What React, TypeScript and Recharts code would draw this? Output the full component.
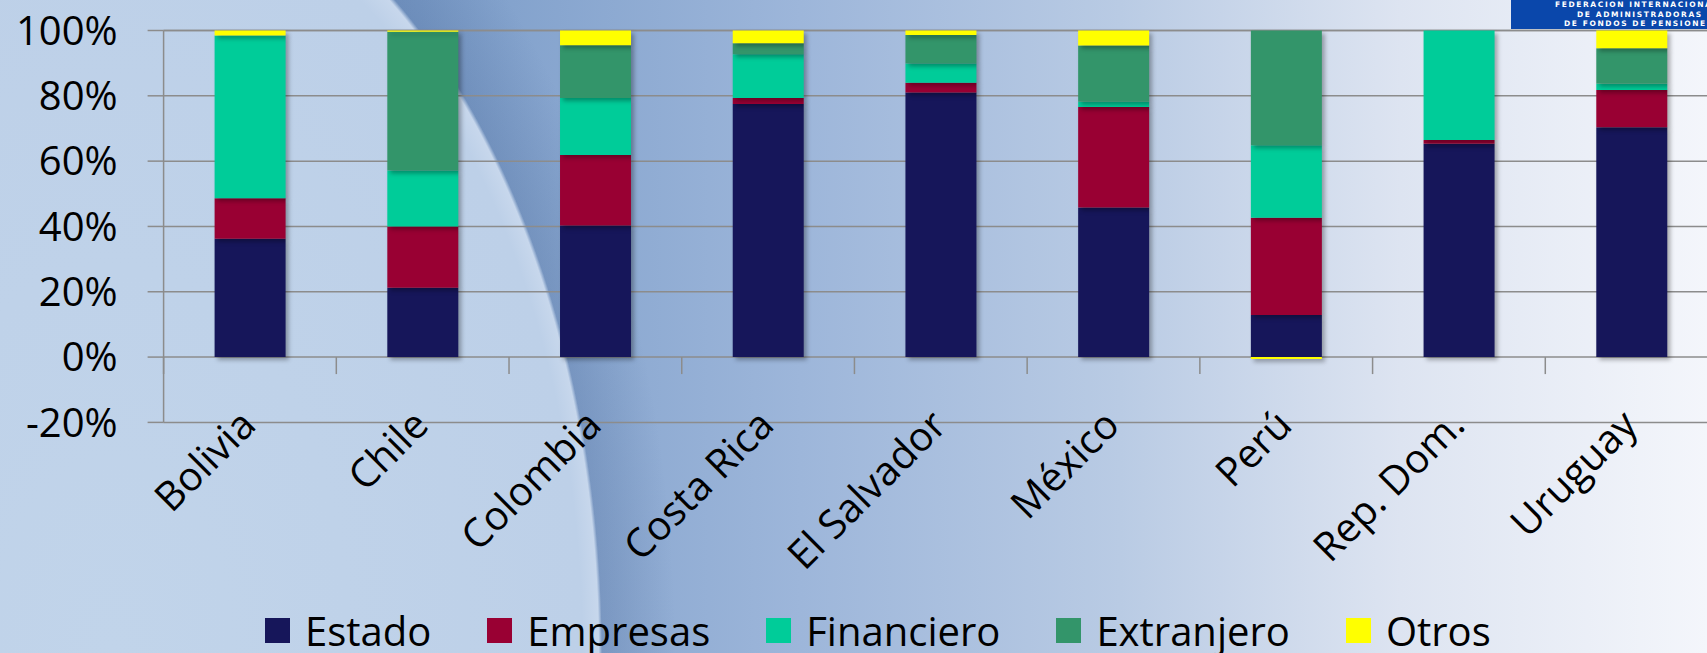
import { BarChart, Bar, XAxis, YAxis, CartesianGrid, Legend } from "recharts";

// composition by issuer, % of portfolio
const countries = ["Bolivia", "Chile", "Colombia", "Costa Rica", "El Salvador", "México", "Perú", "Rep. Dom.", "Uruguay"];
const estado = [36.2, 21.2, 40.3, 77.5, 81.0, 45.8, 12.9, 65.3, 70.4];
const empresas = [12.4, 18.8, 21.6, 1.8, 3.0, 30.8, 29.8, 1.2, 11.4];
const financiero = [49.9, 17.1, 17.4, 13.4, 5.9, 1.6, 22.2, 33.5, 1.9];
const extranjero = [0, 42.5, 16.2, 3.4, 8.7, 17.2, 35.1, 0, 10.9];
const otros = [1.5, 0.4, 4.5, 3.9, 1.4, 4.6, -0.6, 0, 5.4];
const yTicks = [-20, 0, 20, 40, 60, 80, 100];

const series = [
  { key: "Estado", values: estado, color: "#16165a" },
  { key: "Empresas", values: empresas, color: "#990033" },
  { key: "Financiero", values: financiero, color: "#00cc99" },
  { key: "Extranjero", values: extranjero, color: "#33956a" },
  { key: "Otros", values: otros, color: "#ffff00" },
];

const data = countries.map((c, i) => {
  const row: Record<string, string | number> = { country: c };
  series.forEach((s) => (row[s.key] = s.values[i]));
  return row;
});

const FONT = "'Open Sans', sans-serif";
const GRID = "#8c8c8c";
const CHART_W = 1740;
const CHART_H = 653;
const MARGIN = { top: 30.5, right: 22, bottom: 0, left: 0 };
const Y_AXIS_W = 163.6;
const LEGEND_H = 46;
const X_AXIS_H = 184.6;
const PLOT_H = CHART_H - MARGIN.top - LEGEND_H - X_AXIS_H;
const BAND = (CHART_W - MARGIN.right - Y_AXIS_W) / countries.length;

const CountryTick = (props: any) => {
  const { x, y, payload } = props;
  // zero line sits 20 units above the bottom of a -20..100 axis
  const zeroY = y - (PLOT_H * 20) / 120;
  const left = x - BAND / 2;
  const tx = x + 8;
  const ty = y + 5;
  return (
    <g>
      <line x1={left} y1={zeroY} x2={left} y2={zeroY + 17} stroke={GRID} strokeWidth={1.5} />
      <text
        x={tx}
        y={ty}
        transform={`rotate(-45 ${tx} ${ty})`}
        textAnchor="end"
        fontSize={40}
        fontFamily={FONT}
        fill="#000"
      >
        {payload.value}
      </text>
    </g>
  );
};

// legend keeps the series order (recharts would sort it by name)
const LegendRow = () => (
  <div
    style={{
      display: "flex",
      alignItems: "center",
      height: LEGEND_H,
      paddingLeft: 265,
      fontFamily: FONT,
      fontSize: 40,
      color: "#000",
    }}
  >
    {series.map((s) => (
      <div key={s.key} style={{ display: "flex", alignItems: "center", marginRight: 56 }}>
        <span style={{ width: 25, height: 25, background: s.color, marginRight: 15, display: "inline-block" }} />
        <span>{s.key}</span>
      </div>
    ))}
  </div>
);

export default function App() {
  return (
    <div
      style={{
        position: "absolute",
        left: 0,
        top: 0,
        width: 1707,
        height: 653,
        overflow: "hidden",
        background:
          "radial-gradient(490px 800px at 112px 653px, #c1d4ea 0%, #bdd0e8 96%, #c7d7ec 99.3%, rgba(0,0,0,0) 100%)," +
          "radial-gradient(490px 800px at 112px 653px, rgba(50,80,130,0) 98%, rgba(50,80,130,0.2) 100%, rgba(50,80,130,0) 115%)," +
          "linear-gradient(to right, #7295c5 0px, #7c9dc9 420px, #9db6da 800px, #b9cbe4 1120px, #dde4f1 1400px, #f4f6fb 1707px)",
      }}
    >
      <style>{`.recharts-bar-rectangles { filter: drop-shadow(3px 3px 2px rgba(0,0,0,0.3)); }`}</style>
      <div style={{ position: "absolute", left: 1511, top: 0, width: 260, height: 29, background: "#0a47ab" }} />
      {[
        { t: "FEDERACION INTERNACIONAL", l: 1555, y: 1 },
        { t: "DE ADMINISTRADORAS", l: 1577, y: 11 },
        { t: "DE FONDOS DE PENSIONES", l: 1564, y: 20 },
      ].map((r) => (
        <div
          key={r.t}
          style={{
            position: "absolute",
            left: r.l,
            top: r.y,
            whiteSpace: "nowrap",
            color: "#fff",
            fontFamily: "'DejaVu Sans', sans-serif",
            fontWeight: 700,
            fontSize: 7.5,
            lineHeight: "8px",
            letterSpacing: 1.6,
          }}
        >
          {r.t}
        </div>
      ))}
      <BarChart
        width={CHART_W}
        height={CHART_H}
        data={data}
        margin={MARGIN}
        stackOffset="sign"
        barSize={71}
        style={{ position: "absolute", left: 0, top: 0 }}
      >
        <CartesianGrid vertical={false} stroke={GRID} strokeWidth={1.5} />
        <XAxis
          dataKey="country"
          height={X_AXIS_H}
          axisLine={false}
          tickLine={false}
          tickSize={0}
          tickMargin={0}
          interval={0}
          tick={<CountryTick />}
        />
        <YAxis
          width={Y_AXIS_W}
          domain={[-20, 100]}
          ticks={yTicks}
          tickFormatter={(v) => `${v}%`}
          axisLine={{ stroke: GRID, strokeWidth: 1.5 }}
          tickLine={{ stroke: GRID, strokeWidth: 1.5 }}
          tickSize={16}
          tickMargin={30}
          tick={{ fontSize: 40, fill: "#000", fontFamily: FONT }}
        />
        <Legend
          verticalAlign="bottom"
          content={<LegendRow />}
          wrapperStyle={{ left: 0, bottom: 0, width: CHART_W, height: LEGEND_H }}
        />
        {series.map((s) => (
          <Bar key={s.key} dataKey={s.key} name={s.key} stackId="a" fill={s.color} isAnimationActive={false} />
        ))}
      </BarChart>
    </div>
  );
}
